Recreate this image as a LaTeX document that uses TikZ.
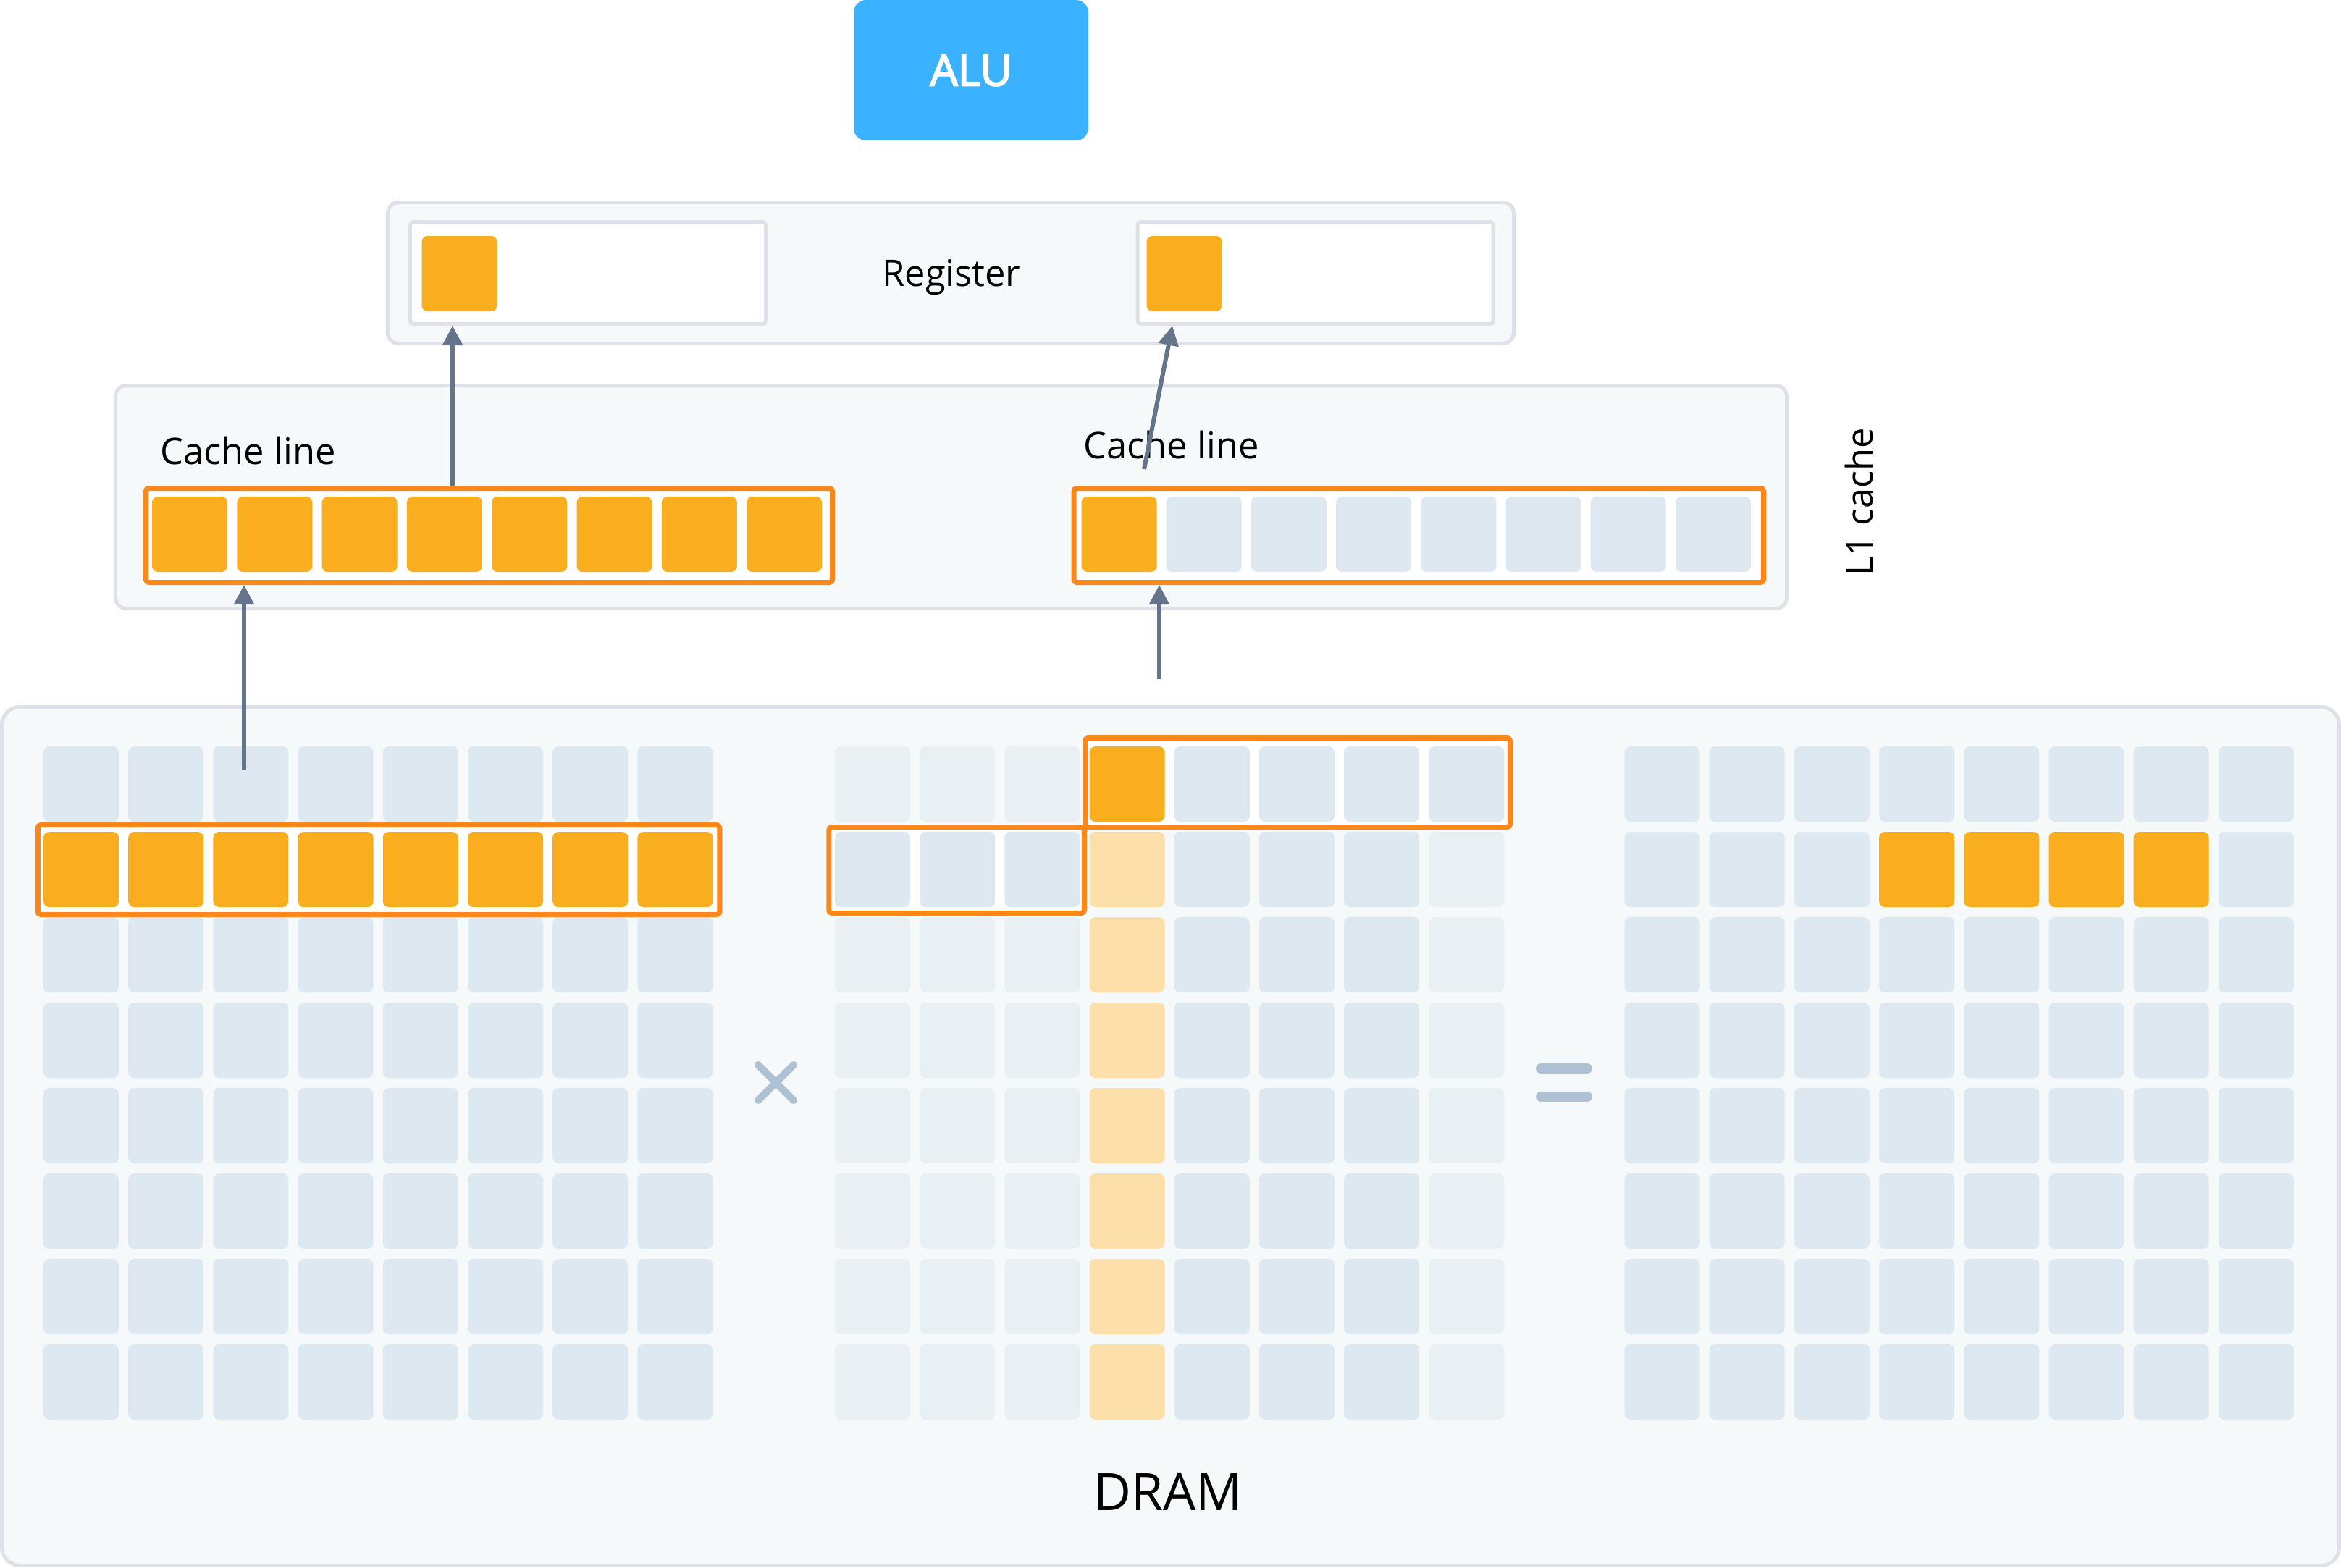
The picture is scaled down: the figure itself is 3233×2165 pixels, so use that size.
\documentclass[tikz,border=0pt]{standalone}
\usepackage{fontspec}
\setmainfont{Open Sans}
\newfontfamily\alufont{Open Sans}[FakeBold=3]
\usetikzlibrary{arrows.meta}
\definecolor{alublue}{HTML}{3BB2FF}
\definecolor{hot}{HTML}{F9AE1F}
\definecolor{warm}{HTML}{FCDFA9}
\definecolor{cellb}{HTML}{DEE8F1}
\definecolor{cellp}{HTML}{E8F0F4}
\definecolor{edge}{HTML}{FD8719}
\definecolor{panelbg}{HTML}{F5F9FA}
\definecolor{panelrim}{HTML}{DFE0E8}
\definecolor{arrowc}{HTML}{64748B}
\definecolor{symc}{HTML}{AFC2D3}
\tikzset{cell/.style={rectangle,rounded corners=0.8mm,minimum width=10.4mm,minimum height=10.4mm,inner sep=0pt,fill=cellb},
  linebox/.style={rectangle,draw=edge,line width=0.7mm,fill=white,rounded corners=0.4mm,inner sep=0pt},
  panelbox/.style={rectangle,draw=panelrim,line width=0.5mm,fill=panelbg,rounded corners=1.5mm,inner sep=0pt},
  slot/.style={rectangle,draw=panelrim,line width=0.5mm,fill=white,rounded corners=0.4mm,inner sep=0pt,minimum width=49.1mm,minimum height=14.1mm},
  lab/.style={font=\fontsize{14.4}{17}\selectfont,inner sep=0pt},
  arr/.style={draw=arrowc,line width=0.6mm,-{Triangle[length=2.7mm,width=2.7mm]}},
  sym/.style={draw=symc,line width=1mm,line cap=round}}

\begin{document}
\begin{tikzpicture}[x=0.1mm,y=-0.1mm]
\useasboundingbox (0,0) rectangle (3233,2165);
\node[panelbox,rounded corners=2.5mm,minimum width=322.8mm,minimum height=118.6mm] (dram) at (1616.5,1569.5) {};
\node[font=\fontsize{20.3}{24}\selectfont,inner sep=0pt,anchor=base] (dramlab) at (1613,2086) {DRAM};
\node[panelbox,minimum width=230.8mm,minimum height=30.8mm] (l1) at (1313.5,686.5) {};
\node[lab,rotate=90] (l1lab) at (2567,693) {L1 cache};
\node[panelbox,minimum width=155.5mm,minimum height=19.5mm] (reg) at (1313,377) {};
\node[lab,anchor=base] (reglab) at (1314,395) {Register};
\node[slot] (regl) at (812,377) {};
\node[slot] (regr) at (1816.5,377) {};
\node[cell,fill=hot] (regla) at (634.5,378) {};
\node[cell,fill=hot] (regra) at (1635.5,378) {};
\node[fill=alublue,rounded corners=1.7mm,minimum width=32.4mm,minimum height=19.4mm,text=white,font=\fontsize{17.2}{20}\selectfont\alufont] (alu) at (1341,97) {ALU};

% L1 cache lines
\node[linebox,minimum width=94.8mm,minimum height=13mm] (lcache) at (675.5,739.5) {};
\node[linebox,minimum width=95.25mm,minimum height=13mm] (rcache) at (1959.25,739.5) {};
\foreach \c in {0,...,7}
  \node[cell,fill=hot] (lc-\c) at ({262+117.3*\c},738) {};
\foreach \c/\col in {0/hot,1/cellb,2/cellb,3/cellb,4/cellb,5/cellb,6/cellb,7/cellb}
  \node[cell,fill=\col] (rc-\c) at ({1545.5+117.2*\c},738) {};
\node[lab,anchor=base west] (lcl) at (221,641) {Cache line};
\node[lab,anchor=base west] (rcl) at (1496,633) {Cache line};

% DRAM matrices
\node[linebox,minimum width=94.15mm,minimum height=12.4mm] (arow) at (523,1201.5) {};
\node[linebox,minimum width=58.7mm,minimum height=12.3mm] (bcol) at (1792,1081) {};
\node[linebox,minimum width=35.25mm,minimum height=11.9mm] (brow) at (1321,1202) {};
\foreach \r in {0,...,7}
  \foreach \c in {0,...,7}{
    \ifnum\r=1 \def\col{hot}\else\def\col{cellb}\fi
    \node[cell,fill=\col] (a-\r-\c) at ({112+117.2*\c},{1083+118*\r}) {};
    \def\col{cellb}
    \ifnum\r=1 \ifnum\c>2 \ifnum\c<7 \def\col{hot}\fi\fi\fi
    \node[cell,fill=\col] (c-\r-\c) at ({2295.5+117.2*\c},{1083+118*\r}) {};
  }
\foreach \c/\col in {0/cellp,1/cellp,2/cellp,3/hot,4/cellb,5/cellb,6/cellb,7/cellb}
  \node[cell,fill=\col] (b-0-\c) at ({1205+117.2*\c},1083) {};
\foreach \c/\col in {0/cellb,1/cellb,2/cellb,3/warm,4/cellb,5/cellb,6/cellb,7/cellp}
  \node[cell,fill=\col] (b-1-\c) at ({1205+117.2*\c},1201) {};
\foreach \r in {2,...,7}
  \foreach \c/\col in {0/cellp,1/cellp,2/cellp,3/warm,4/cellb,5/cellb,6/cellb,7/cellp}
    \node[cell,fill=\col] (b-\r-\c) at ({1205+117.2*\c},{1083+118*\r}) {};
\draw[sym] (1047,1471) -- (1096,1520) (1096,1471) -- (1047,1520);
\draw[sym,line width=1.4mm] (2128,1476) -- (2192,1476) (2128,1515) -- (2192,1515);

% loads
\coordinate (a1) at (337,1063);
\coordinate (a2) at (625,0);
\coordinate (a3) at (1601,938);
\coordinate (a4) at (1580,648);
\coordinate (a4t) at (1619,0);
\draw[arr] (a1) -- (a1 |- lcache.south);
\draw[arr] (lcache.north -| a2) -- (regl.south -| a2);
\draw[arr] (a3) -- (a3 |- rcache.south);
\draw[arr] (a4) -- (regr.south -| a4t);
\end{tikzpicture}
\end{document}
